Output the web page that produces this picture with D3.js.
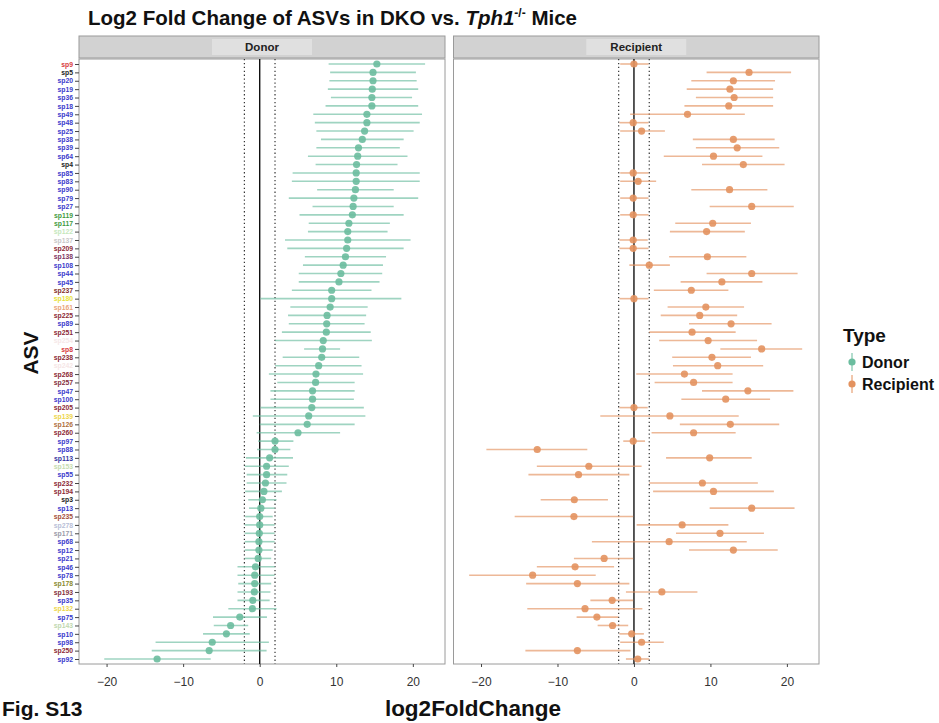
<!DOCTYPE html>
<html><head><meta charset="utf-8">
<script src="https://cdn.jsdelivr.net/npm/d3@7"></script>
<style>
body{margin:0;background:#fff;}
text{font-family:"Liberation Sans",Arial,Helvetica,sans-serif;}
</style></head>
<body><svg id="chart" width="939" height="723"></svg>
<script>
const asvLabels = ["sp9","sp5","sp20","sp19","sp36","sp18","sp49","sp48","sp25","sp38","sp39","sp64","sp4","sp85","sp83","sp90","sp79","sp27","sp119","sp117","sp122","sp137","sp209","sp138","sp108","sp44","sp45","sp237","sp180","sp161","sp225","sp89","sp251","sp254","sp8","sp238","sp242","sp268","sp257","sp47","sp100","sp205","sp139","sp126","sp260","sp97","sp88","sp113","sp153","sp55","sp232","sp194","sp3","sp13","sp235","sp278","sp171","sp68","sp12","sp21","sp46","sp78","sp178","sp193","sp35","sp132","sp75","sp143","sp10","sp98","sp250","sp92"];
const labelColors = ["#d83a40","#222","#3a3acc","#3a3acc","#3a3acc","#3a3acc","#3a3acc","#3a3acc","#3a3acc","#3a3acc","#3a3acc","#3a3acc","#222","#3a3acc","#3a3acc","#3a3acc","#3a3acc","#3a3acc","#3f9a3f","#3f9a3f","#c5e8bd","#c8c8c8","#8c2a35","#7e3560","#3a3acc","#3a3acc","#3a3acc","#84302c","#e8e23a","#eaa57a","#8c2a35","#3a3acc","#8c2a35","#f6e8e8","#d83a40","#8c2a35","#f6e6e6","#8c2a35","#84303c","#3a3acc","#3a3acc","#8c2a35","#eed64a","#b07040","#8c2a35","#3a3acc","#3a3acc","#3434a0","#c6dcb0","#3a3acc","#8c2a35","#8c2a35","#222","#3a3acc","#a5503a","#b8c0d8","#9a9aa8","#3a3acc","#3a3acc","#3a3acc","#3a3acc","#3a3acc","#8a8a30","#84303c","#3a3acc","#eed64a","#3a3acc","#c0d8b0","#3a3acc","#3a3acc","#8c2a35","#3a3acc"];
const donorFC   = [15.3,14.8,14.8,14.7,14.65,14.65,14.0,14.0,13.7,13.4,12.9,12.8,12.65,12.6,12.6,12.5,12.3,12.2,12.1,11.65,11.5,11.5,11.35,11.2,10.9,10.6,10.35,9.4,9.4,9.2,8.8,8.75,8.7,8.3,8.2,8.1,7.7,7.35,7.3,6.9,6.9,6.8,6.4,6.2,5.0,2.0,2.0,1.3,0.9,0.9,0.75,0.55,0.35,0.15,0.0,0.0,-0.05,-0.1,-0.1,-0.2,-0.55,-0.65,-0.65,-0.7,-0.9,-0.95,-2.6,-3.8,-4.35,-6.2,-6.6,-13.4];
const donorLow  = [9.0,9.2,9.1,8.9,9.3,8.6,7.0,7.2,7.4,8.0,7.4,6.3,7.3,4.3,4.2,7.5,3.8,6.9,5.2,6.4,6.3,3.3,3.6,5.9,5.65,5.1,5.1,4.2,0.1,4.0,3.7,3.8,2.9,2.0,5.8,3.0,2.0,1.2,2.3,1.4,1.4,0.1,-0.9,0.0,-0.4,-0.2,-0.35,-1.8,-1.95,-1.7,-1.7,-1.9,-1.5,-1.4,-1.9,-1.95,-1.95,-1.95,-1.95,-1.95,-2.9,-2.9,-2.8,-2.9,-2.9,-4.1,-6.1,-6.0,-7.4,-13.6,-14.1,-20.3];
const donorHigh = [21.6,20.4,20.5,20.7,19.9,20.7,21.2,20.9,20.1,18.8,18.3,19.3,18.0,20.9,20.9,17.5,20.7,17.5,18.8,17.0,16.7,19.7,18.8,16.5,16.1,16.0,15.65,14.6,18.5,14.1,13.9,13.7,14.5,14.65,10.5,13.0,13.3,13.5,12.4,12.4,12.3,13.6,13.8,12.4,10.5,4.4,4.0,4.35,3.8,3.6,3.5,2.9,2.2,1.95,1.7,1.95,1.95,1.95,1.7,1.5,1.95,1.95,1.5,1.4,1.3,2.2,0.95,-1.5,-1.3,1.2,0.9,-6.4];
const recipFC   = [0.0,15.05,13.0,12.55,13.1,12.4,7.0,-0.1,1.0,13.0,13.5,10.4,14.3,-0.1,0.55,12.5,-0.1,15.4,-0.1,10.3,9.5,-0.1,-0.1,9.6,2.0,15.4,11.5,7.5,0.0,9.4,8.6,12.7,7.6,9.7,16.7,10.2,10.95,6.6,7.8,14.9,12.0,0.0,4.7,12.6,7.8,-0.1,-12.65,9.9,-5.9,-7.25,8.95,10.4,-7.8,15.4,-7.85,6.3,11.25,4.6,13.0,-3.9,-7.7,-13.25,-7.4,3.65,-2.85,-6.4,-4.85,-2.8,-0.3,1.0,-7.4,0.5];
const recipLow  = [-1.8,9.5,7.5,6.9,8.1,6.6,-0.5,-1.9,-1.8,7.7,8.1,3.9,8.9,-1.8,-1.8,7.5,-1.8,9.9,-1.8,5.4,4.7,-1.9,-1.9,4.6,-0.6,9.5,6.1,2.6,-1.9,4.4,3.5,7.2,2.0,3.3,11.3,5.0,5.1,0.3,2.7,8.9,6.2,-1.9,-4.4,6.0,2.3,-1.4,-19.3,4.2,-12.7,-13.8,2.0,2.5,-12.2,9.9,-15.6,0.35,5.5,-5.5,7.2,-7.85,-12.7,-21.55,-14.1,-1.05,-5.7,-13.95,-7.5,-4.75,-1.9,-1.8,-14.2,-1.05];
const recipHigh = [1.9,20.55,18.45,18.2,18.2,18.2,14.5,1.9,4.05,18.4,19.0,16.8,19.7,1.9,2.9,17.45,1.9,20.9,1.9,15.3,14.5,1.8,1.9,14.7,4.7,21.4,16.8,12.35,1.9,14.4,13.5,18.0,13.3,16.1,22.0,15.3,16.9,12.9,12.9,20.85,17.8,1.8,13.7,19.0,13.3,1.45,-6.1,15.4,1.0,-0.6,16.2,18.3,-3.4,21.0,-0.1,12.35,17.0,14.75,18.8,-0.1,-2.6,-5.0,-0.6,8.3,-0.1,1.1,-2.05,-0.75,1.3,3.9,-0.45,2.0];
const xTicks = [-20,-10,0,10,20];
const panelNames = ["Donor","Recipient"];
const legendLabels = ["Donor","Recipient"];
const typeColors = ["#6bbd9f","#e3925f"];

const svg = d3.select("#chart");
const yTop = 59, yBot = 664;
const y = d3.scalePoint().domain(asvLabels).range([64, 659]);
const xDomain = [-23.6, 24.2];
const panels = [
  {name: panelNames[0], x0: 79, x1: 445, fc: donorFC, lo: donorLow, hi: donorHigh, col: typeColors[0]},
  {name: panelNames[1], x0: 453.5, x1: 819, fc: recipFC, lo: recipLow, hi: recipHigh, col: typeColors[1]}
];

// title
const title = svg.append("text").attr("x", 88).attr("y", 25).attr("font-size", 20.5).attr("font-weight", "bold").attr("fill", "#111");
title.append("tspan").text("Log2 Fold Change of ASVs in DKO vs. ");
title.append("tspan").attr("font-style", "italic").text("Tph1");
title.append("tspan").attr("font-size", 12).attr("dy", -8).text("-/-");
title.append("tspan").attr("dy", 8).text(" Mice");

panels.forEach(p => {
  const x = d3.scaleLinear().domain(xDomain).range([p.x0, p.x1]);
  const g = svg.append("g");
  // strip
  g.append("rect").attr("x", p.x0).attr("y", 36).attr("width", p.x1 - p.x0).attr("height", 22)
    .attr("fill", "#d2d2d2").attr("stroke", "#9a9a9a").attr("stroke-width", 1);
  const cx = (p.x0 + p.x1) / 2;
  g.append("rect").attr("x", cx - 50).attr("y", 39).attr("width", 100).attr("height", 16).attr("fill", "#e0e0e0");
  g.append("text").attr("x", cx).attr("y", 51).attr("text-anchor", "middle").attr("font-size", 11.5)
    .attr("font-weight", "bold").attr("fill", "#222").text(p.name);
  // panel
  g.append("rect").attr("x", p.x0).attr("y", yTop).attr("width", p.x1 - p.x0).attr("height", yBot - yTop)
    .attr("fill", "#fff").attr("stroke", "#9a9a9a").attr("stroke-width", 1);
  // reference lines
  [-2, 2].forEach(v => {
    g.append("line").attr("x1", x(v)).attr("x2", x(v)).attr("y1", yTop).attr("y2", yBot)
      .attr("stroke", "#333").attr("stroke-width", 1.2).attr("stroke-dasharray", "1.3,2.6");
  });
  g.append("line").attr("x1", x(0)).attr("x2", x(0)).attr("y1", yTop).attr("y2", yBot)
    .attr("stroke", "#111").attr("stroke-width", 1.4);
  // error bars
  g.selectAll(".eb").data(asvLabels).enter().append("line")
    .attr("x1", (d, i) => x(p.lo[i])).attr("x2", (d, i) => x(p.hi[i]))
    .attr("y1", d => y(d)).attr("y2", d => y(d))
    .attr("stroke", p.col).attr("stroke-opacity", 0.65).attr("stroke-width", 1.6);
  g.selectAll(".pt").data(asvLabels).enter().append("circle")
    .attr("cx", (d, i) => x(p.fc[i])).attr("cy", d => y(d)).attr("r", 3.6)
    .attr("fill", p.col).attr("fill-opacity", 0.9);
  // x axis
  const ax = g.append("g").attr("transform", `translate(0,${yBot})`)
    .call(d3.axisBottom(x).tickValues(xTicks).tickSize(3).tickFormat(d3.format("d")));
  ax.select(".domain").remove();
  ax.selectAll("line").attr("stroke", "#444");
  ax.selectAll("text").attr("font-size", 12).attr("fill", "#333").attr("dy", "1.35em")
    .attr("font-family", "\"Liberation Sans\",Arial,sans-serif");
});

// y axis
const ay = svg.append("g").attr("transform", "translate(79,0)")
  .call(d3.axisLeft(y).tickSize(4).tickPadding(2));
ay.select(".domain").remove();
ay.selectAll("line").attr("stroke", "#444");
ay.selectAll("text").attr("font-size", 6.8).attr("font-weight", "bold")
  .attr("font-family", "\"Liberation Sans\",Arial,sans-serif")
  .attr("fill", (d, i) => labelColors[i]);

// axis titles
svg.append("text").attr("transform", "translate(38,353) rotate(-90)").attr("text-anchor", "middle")
  .attr("font-size", 21).attr("font-weight", "bold").attr("fill", "#111").text("ASV");
svg.append("text").attr("x", 473).attr("y", 716).attr("text-anchor", "middle")
  .attr("font-size", 22.5).attr("font-weight", "bold").attr("fill", "#111").text("log2FoldChange");
svg.append("text").attr("x", 2).attr("y", 716)
  .attr("font-size", 21).attr("font-weight", "bold").attr("fill", "#111").text("Fig. S13");

// legend
svg.append("text").attr("x", 843).attr("y", 342).attr("font-size", 19).attr("font-weight", "bold")
  .attr("fill", "#111").text("Type");
legendLabels.forEach((lab, i) => {
  const ly = 362 + i * 22;
  svg.append("line").attr("x1", 852).attr("x2", 852).attr("y1", ly - 9).attr("y2", ly + 9)
    .attr("stroke", typeColors[i]).attr("stroke-opacity", 0.65).attr("stroke-width", 1.6);
  svg.append("circle").attr("cx", 852).attr("cy", ly).attr("r", 3.6).attr("fill", typeColors[i]);
  svg.append("text").attr("x", 862).attr("y", ly + 5.5).attr("font-size", 16).attr("font-weight", "bold")
    .attr("fill", "#111").text(lab);
});
</script></body></html>
